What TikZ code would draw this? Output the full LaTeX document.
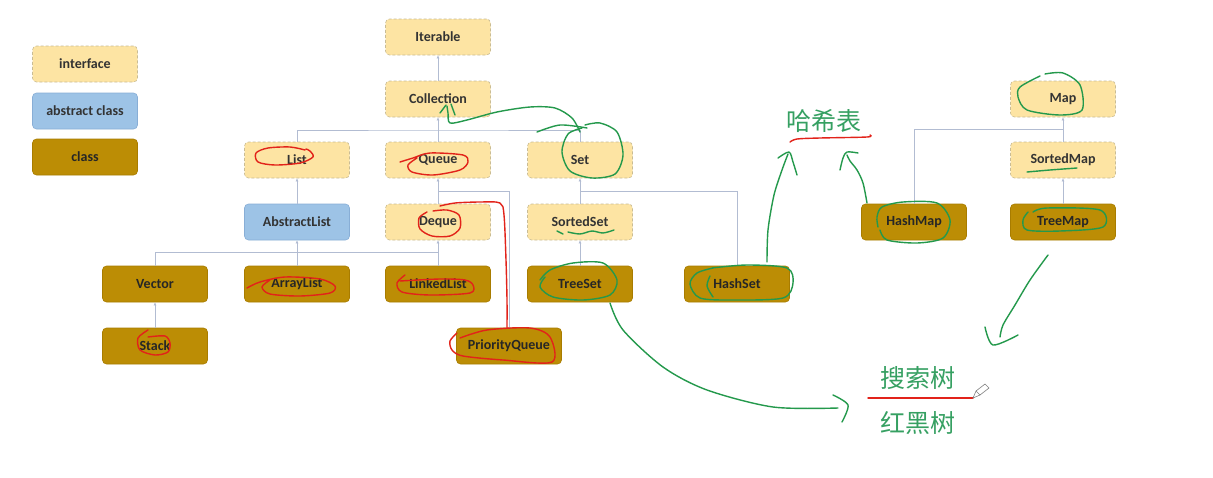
\documentclass[tikz,border=0pt]{standalone}
\usepackage{fontspec}
\setmainfont{Carlito}
\newfontfamily\cjk{Noto Sans CJK SC}
\usetikzlibrary{arrows.meta,calc}
\definecolor{ifill}{HTML}{FDE4A3}
\definecolor{idraw}{HTML}{C9BC94}
\definecolor{afill}{HTML}{9DC3E6}
\definecolor{adraw}{HTML}{88AED6}
\definecolor{cfill}{HTML}{BC8D05}
\definecolor{cdraw}{HTML}{A87C00}
\definecolor{conncol}{HTML}{B2BCD2}
\definecolor{pen}{HTML}{24994C}
\definecolor{pentext}{HTML}{36A062}
\definecolor{redpen}{HTML}{E2231A}
\definecolor{txt}{HTML}{333333}
\begin{document}
\begin{tikzpicture}[x=1pt,y=-1pt,
 box/.style={rounded corners=4pt, minimum width=105pt, minimum height=36pt, inner sep=0pt, font=\fontsize{14}{16}\selectfont\bfseries, text=txt},
 iface/.style={box, fill=ifill, draw=idraw, densely dashed, line width=0.6pt},
 abst/.style={box, fill=afill, draw=adraw, line width=0.6pt},
 cls/.style={box, fill=cfill, draw=cdraw, line width=0.6pt, text=black!85},
 conn/.style={draw=conncol, line width=1pt},
 inh/.style={conn, -{Latex[length=3pt,width=3pt]}},
 gpen/.style={draw=pen, line width=1.4pt, line cap=round, line join=round},
 rpen/.style={draw=redpen, line width=1.4pt, line cap=round, line join=round},
 cjktext/.style={text=pentext, font=\cjk\fontsize{25}{28}\selectfont, inner sep=0pt},
]
\useasboundingbox[fill=white] (0,0) rectangle (1213,477);

% legend
\node[iface] (legI) at (85,64) {interface};
\node[abst] (legA) at (85,111) {abstract class};
\node[cls] (legC) at (85,157) {class};

% collection hierarchy
\node[iface] (Iterable) at (438,37) {Iterable};
\node[iface] (Collection) at (438,99) {Collection};
\node[iface] (List) at (297,160) {List};
\node[iface] (Queue) at (438,160) {Queue};
\node[iface] (Set) at (580,160) {Set};
\node[abst] (AbstractList) at (297,222) {AbstractList};
\node[iface] (Deque) at (438,222) {Deque};
\node[iface] (SortedSet) at (580,222) {SortedSet};
\node[cls] (Vector) at (155,284) {Vector};
\node[cls] (ArrayList) at (297,284) {ArrayList};
\node[cls] (LinkedList) at (438,284) {LinkedList};
\node[cls] (TreeSet) at (580,284) {TreeSet};
\node[cls] (HashSet) at (737,284) {HashSet};
\node[cls] (Stack) at (155,346) {Stack};
\node[cls] (PriorityQueue) at (509,346) {PriorityQueue};
% map hierarchy
\node[iface] (Map) at (1063,99) {Map};
\node[iface] (SortedMap) at (1063,160) {SortedMap};
\node[cls] (HashMap) at (914,222) {HashMap};
\node[cls] (TreeMap) at (1063,222) {TreeMap};

% connectors
\draw[inh] (Collection.north) -- (Iterable.south);
\coordinate (cbus) at (438,130);
\draw[conn] (List.north) |- (cbus) -| (Set.north);
\draw[inh] (Queue.north) -- (Collection.south);
\draw[inh] (AbstractList.north) -- (List.south);
\draw[inh] (Deque.north) -- (Queue.south);
\coordinate (qbus) at ($(Queue.south)!0.5!(Deque.north)$);
\draw[conn] (PriorityQueue.north) |- (qbus);
\coordinate (lbus) at (438,252);
\draw[conn] (Vector.north) |- (lbus);
\draw[inh] (ArrayList.north) -- (AbstractList.south);
\draw[inh] (LinkedList.north) -- (Deque.south);
\draw[inh] (Stack.north) -- (Vector.south);
\draw[inh] (SortedSet.north) -- (Set.south);
\coordinate (sbus) at ($(Set.south)!0.5!(SortedSet.north)$);
\draw[conn] (HashSet.north) |- (sbus);
\draw[inh] (TreeSet.north) -- (SortedSet.south);
\draw[inh] (SortedMap.north) -- (Map.south);
\coordinate (mbus) at ($(Map.south)!0.5!(SortedMap.north)$);
\draw[conn] (HashMap.north) |- (mbus);
\draw[inh] (TreeMap.north) -- (SortedMap.south);

% annotation texts
\node[cjktext] (hash) at (824,121) {哈希表};
\node[cjktext] (search) at (918,378) {搜索树};
\node[cjktext] (rbtree) at (918,423) {红黑树};
\draw[rpen] (868,398) -- (973,398);
\draw[rpen] plot[smooth] coordinates {(790,142) (797,139) (820,138) (867,137) (870,135)};
% pencil cursor
\draw[gray, line width=0.6pt, fill=white] (973,398) -- (976,391) -- (985,384) -- (989,388) -- (980,395) -- cycle;
\draw[gray, line width=0.6pt] (976,391) -- (980,395);

% red annotations
\draw[rpen] plot[smooth] coordinates {(305,150) (290,147) (268,148) (256,153) (258,162) (275,165) (300,163) (313,157) (310,151) (306,149)};
\draw[rpen] plot[smooth] coordinates {(400,162) (413,158) (430,153) (463,155) (468,162) (460,170) (433,175) (412,172) (408,165) (417,158)};
\draw[rpen] plot[smooth] coordinates {(427,212) (419,218) (420,229) (432,236) (450,236) (460,228) (459,215) (447,210) (433,211)};
\draw[rpen] plot[smooth] coordinates {(247,288) (260,282) (285,277) (320,279) (335,286) (330,293) (300,296) (270,294) (262,287) (270,280)};
\draw[rpen] plot[smooth] coordinates {(405,275) (397,283) (402,292) (430,295) (470,293) (473,285) (465,280) (440,279) (400,281)};
\draw[rpen] plot[smooth] coordinates {(148,330) (138,338) (140,350) (155,355) (168,352) (170,343) (165,336) (148,337)};
\draw[rpen] plot[smooth] coordinates {(457,333) (450,341) (452,350) (463,356) (503,360) (552,362) (550,337) (530,328) (487,330) (460,338)};
\draw[rpen] plot[smooth] coordinates {(440,206) (455,203) (480,202) (500,203) (504,215) (506,260) (507,300) (507,328)};

% green annotations
\draw[gpen] plot[smooth] coordinates {(537,132) (560,125) (587,128)};
\draw[gpen] plot[smooth] coordinates {(582,128) (568,134) (562,152) (570,171) (592,178) (615,174) (623,155) (617,132) (600,123) (585,125)};
\draw[gpen] plot[smooth] coordinates {(580,132) (572,118) (555,108) (530,107) (497,112) (467,120) (450,123) (448,113) (447,106)};
\draw[gpen] (440,113) -- (446,105);
\draw[gpen] (451,104) -- (455,115);
\draw[gpen] (557,231) -- (563,234);
\draw[gpen] plot[smooth] coordinates {(568,232) (580,234) (592,231) (603,233) (614,230)};
\draw[gpen] plot[smooth] coordinates {(545,277) (540,287) (553,297) (583,300) (610,295) (617,280) (603,263) (573,263) (550,270) (540,280)};
\draw[gpen] plot[smooth] coordinates {(713,268) (697,273) (690,284) (700,298) (733,300) (783,298) (793,283) (787,268) (747,265) (712,268)};
\draw[gpen] plot[smooth] coordinates {(710,276) (707,286) (713,297)};
\draw[gpen] plot[smooth] coordinates {(767,262) (768,230) (774,195) (782,170) (788,154)};
\draw[gpen] plot[smooth] coordinates {(778,158) (789,152) (793,162) (797,175)};
\draw[gpen] plot[smooth] coordinates {(867,203) (863,183) (857,170) (850,161) (847,155)};
\draw[gpen] plot[smooth] coordinates {(840,170) (843,158) (847,152) (858,153)};
\draw[gpen] plot[smooth] coordinates {(878,227) (877,217) (882,207) (903,202) (937,203) (950,220) (943,238) (917,243) (887,240) (880,230)};
\draw[gpen] plot[smooth] coordinates {(1033,212) (1047,208) (1100,210) (1103,227) (1060,231) (1027,230) (1023,220) (1028,212)};
\draw[gpen] plot[smooth] coordinates {(1040,76) (1020,87) (1018,97) (1027,110) (1060,115) (1082,110) (1080,85) (1063,73) (1045,74)};
\draw[gpen] plot[smooth] coordinates {(1027,172) (1050,170) (1077,168)};
\draw[gpen] plot[smooth] coordinates {(1048,255) (1030,280) (1015,305) (1003,325) (1000,337)};
\draw[gpen] plot[smooth] coordinates {(985,327) (993,345) (1018,335)};
\draw[gpen] plot[smooth] coordinates {(610,303) (623,330) (663,367) (707,390) (773,407) (838,408)};
\draw[gpen] plot[smooth] coordinates {(833,395) (848,405) (842,422)};
\end{tikzpicture}
\end{document}
